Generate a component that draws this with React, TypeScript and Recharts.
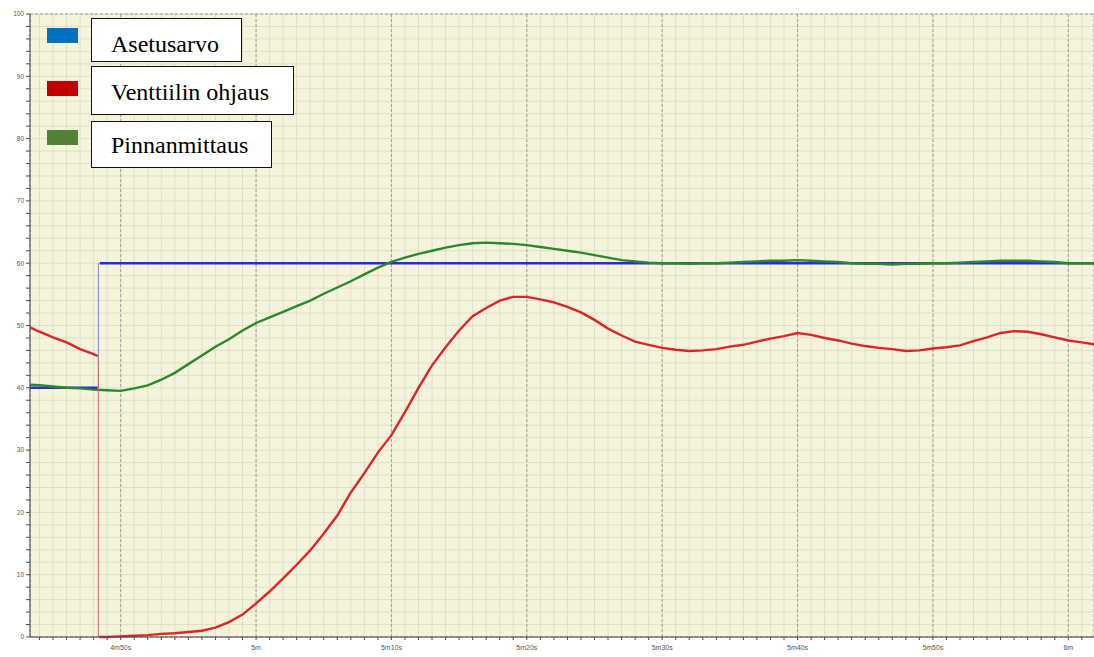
import React from "react";
import { LineChart, Line, XAxis, YAxis, CartesianGrid } from "recharts";

// time in seconds (4m43s .. 6m02s)
const greenTimes = [283.3, ...Array.from({ length: 78 }, (_, i) => 284 + i), 361.9];
const levelValues = [
  40.5,
  40.4, 40.2, 40.0, 39.9, 39.7, 39.6, 39.5,
  39.9, 40.4, 41.3, 42.4, 43.8, 45.2, 46.6, 47.8, 49.2, 50.4,
  51.3, 52.2, 53.1, 54.0, 55.1, 56.1, 57.1, 58.2, 59.3, 60.2,
  60.9, 61.5, 62.0, 62.5, 62.9, 63.2, 63.3, 63.2, 63.1, 62.9,
  62.6, 62.3, 62.0, 61.7, 61.3, 60.9, 60.5, 60.3, 60.1, 60.0,
  60.0, 59.9, 60.0, 60.0, 60.1, 60.2, 60.3, 60.4, 60.4, 60.5,
  60.4, 60.3, 60.2, 60.0, 59.9, 59.9, 59.8, 59.9, 59.9, 60.0,
  60.0, 60.1, 60.2, 60.3, 60.4, 60.4, 60.4, 60.3, 60.2, 60.0,
  60.0, 60.0,
];

const stepTime = 288.35;

const valveTimesBefore = [283.3, 284, 285, 286, 287, 288, 288.3];
const valveBefore = [49.7, 49.0, 48.1, 47.3, 46.2, 45.4, 45.1];

const valveTimesAfter = [288.4, ...Array.from({ length: 73 }, (_, i) => 289 + i), 361.9];
const valveAfter = [
  0,
  0, 0.1,
  0.2, 0.3, 0.5, 0.6, 0.8, 1.0, 1.5, 2.4, 3.6, 5.4,
  7.3, 9.4, 11.6, 13.9, 16.6, 19.5, 23.2, 26.3, 29.6, 32.4,
  36.1, 40.0, 43.6, 46.5, 49.2, 51.5, 52.8, 54.0, 54.6, 54.6,
  54.2, 53.7, 53.0, 52.1, 50.9, 49.5, 48.4, 47.4, 46.9, 46.4,
  46.1, 45.9, 46.0, 46.2, 46.6, 46.9, 47.4, 47.9, 48.3, 48.8,
  48.5, 48.0, 47.6, 47.1, 46.7, 46.4, 46.2, 45.9, 46.0, 46.3,
  46.5, 46.8, 47.5, 48.1, 48.8, 49.1, 49.0, 48.6, 48.1, 47.6,
  47.3, 47.0,
];

const setpointTimesBefore = [283.3, 288.3];
const setpointBefore = [40, 40];
const setpointTimesAfter = [288.45, 361.9];
const setpointAfter = [60, 60];

const xMinorTicks = Array.from({ length: 78 }, (_, i) => 284 + i);
const xMajorTicks = [290, 300, 310, 320, 330, 340, 350, 360];
const yMinorTicks = Array.from({ length: 51 }, (_, i) => i * 2);
const yMajorTicks = [0, 10, 20, 30, 40, 50, 60, 70, 80, 90, 100];

const legendItems = [
  { name: "Asetusarvo", color: "#0070c0" },
  { name: "Venttiilin ohjaus", color: "#c00000" },
  { name: "Pinnanmittaus", color: "#548235" },
];

const toPoints = (ts: number[], vs: number[]) => ts.map((t, i) => ({ t, v: vs[i] }));

const formatTime = (s: number) => {
  if (s % 10 !== 0) return "";
  const m = Math.floor(s / 60);
  const sec = s % 60;
  return sec === 0 ? `${m}m` : `${m}m${sec}s`;
};

const tickStyle = { fontSize: 7, fill: "#555", fontFamily: "Liberation Sans, Arial, sans-serif" };

export default function App() {
  return (
    <div style={{ position: "absolute", left: 0, top: 0, width: 1094, height: 657, background: "#fff" }}>
      <LineChart width={1094} height={657} margin={{ top: 14, right: 0, bottom: 0, left: 0 }}>
        <XAxis xAxisId="major" type="number" dataKey="t" domain={[283.3, 361.9]} allowDataOverflow ticks={xMajorTicks} height={0} hide />
        <YAxis yAxisId="major" type="number" domain={[0, 100]} ticks={yMajorTicks} width={0} hide />
        <XAxis
          xAxisId="x"
          type="number"
          dataKey="t"
          domain={[283.3, 361.9]}
          allowDataOverflow
          ticks={xMinorTicks}
          interval={0}
          tickFormatter={formatTime}
          tick={tickStyle}
          tickSize={3}
          tickMargin={5}
          height={20}
          stroke="#4a4a4a"
        />
        <YAxis
          yAxisId="y"
          type="number"
          domain={[0, 100]}
          ticks={yMinorTicks}
          interval={0}
          tickFormatter={(v: number) => (v % 10 === 0 ? String(v) : "")}
          tick={{ ...tickStyle, fontSize: 6.5 }}
          tickSize={4}
          tickMargin={2}
          width={30}
          stroke="#4a4a4a"
        />
        <CartesianGrid xAxisId="x" yAxisId="y" stroke="#e0dec6" fill="#f5f3dc" />
        <CartesianGrid xAxisId="major" yAxisId="major" stroke="#a09f92" strokeDasharray="3 2" />

        <Line xAxisId="x" yAxisId="y" data={toPoints(setpointTimesBefore, setpointBefore)} dataKey="v" stroke="#2b2bd6" strokeWidth={2.4} dot={false} isAnimationActive={false} />
        <Line xAxisId="x" yAxisId="y" data={toPoints([stepTime, stepTime], [40, 60])} dataKey="v" stroke="#8080e6" strokeWidth={1} dot={false} isAnimationActive={false} />
        <Line xAxisId="x" yAxisId="y" data={toPoints(setpointTimesAfter, setpointAfter)} dataKey="v" stroke="#2b2bd6" strokeWidth={2.4} dot={false} isAnimationActive={false} />

        <Line xAxisId="x" yAxisId="y" data={toPoints(greenTimes, levelValues)} dataKey="v" stroke="#2a8a2a" strokeWidth={2.4} dot={false} isAnimationActive={false} />

        <Line xAxisId="x" yAxisId="y" data={toPoints(valveTimesBefore, valveBefore)} dataKey="v" stroke="#dc2626" strokeWidth={2.4} dot={false} isAnimationActive={false} />
        <Line xAxisId="x" yAxisId="y" data={toPoints([stepTime, stepTime], [45.1, 0])} dataKey="v" stroke="#e06a6a" strokeWidth={1} dot={false} isAnimationActive={false} />
        <Line xAxisId="x" yAxisId="y" data={toPoints(valveTimesAfter, valveAfter)} dataKey="v" stroke="#dc2626" strokeWidth={2.4} dot={false} isAnimationActive={false} />
      </LineChart>

      {legendItems.map((item, i) => {
        const boxTop = [18, 66, 121][i];
        const boxHeight = [44, 49, 47][i];
        const boxWidth = [151, 203, 181][i];
        const swatchTop = [28, 81, 130][i];
        return (
          <React.Fragment key={item.name}>
            <div style={{ position: "absolute", left: 47, top: swatchTop, width: 31, height: 15, background: item.color }} />
            <div
              style={{
                position: "absolute",
                left: 91,
                top: boxTop,
                width: boxWidth,
                height: boxHeight,
                boxSizing: "border-box",
                border: "1px solid #111",
                background: "#fff",
              }}
            />
            <div
              style={{
                position: "absolute",
                left: 111,
                top: [32, 80, 133][i],
                fontFamily: "Liberation Serif, 'Times New Roman', serif",
                fontSize: 24,
                lineHeight: "24px",
                color: "#000",
                whiteSpace: "nowrap",
              }}
            >
              {item.name}
            </div>
          </React.Fragment>
        );
      })}
    </div>
  );
}
